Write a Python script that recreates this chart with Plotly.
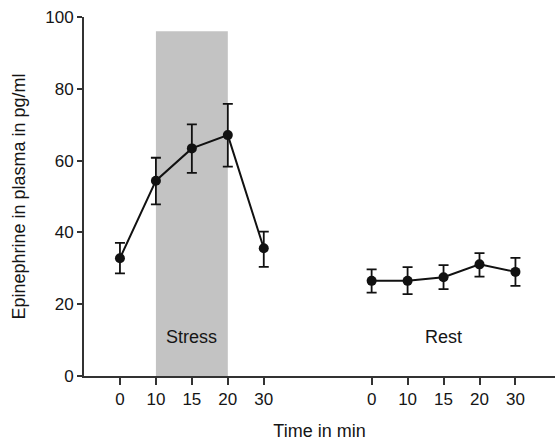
import plotly.graph_objects as go

time_labels = ["0", "10", "15", "20", "30"]
stress_mean = [32.8, 54.4, 63.4, 67.1, 35.6]
stress_upper = [37.1, 60.8, 70.1, 75.8, 40.2]
stress_lower = [28.6, 47.8, 56.6, 58.3, 30.4]
rest_mean = [26.5, 26.5, 27.5, 31.1, 29.0]
rest_upper = [29.7, 30.3, 30.9, 34.2, 32.9]
rest_lower = [23.2, 22.8, 24.2, 27.7, 25.1]
group_labels = ["Stress", "Rest"]
stress_band = [10, 20]
stress_band_top = 96

gap = 7
xs_stress = list(range(len(time_labels)))
xs_rest = [i + gap for i in xs_stress]

def errs(mean, up, lo):
    return dict(type="data", symmetric=False,
                array=[u - m for u, m in zip(up, mean)],
                arrayminus=[m - l for m, l in zip(mean, lo)],
                color="#111", thickness=1.8, width=5)

fig = go.Figure()
band_x = [time_labels.index(str(v)) for v in stress_band]
fig.add_shape(type="rect", x0=band_x[0], x1=band_x[1], y0=0, y1=stress_band_top,
              fillcolor="#c3c3c3", line=dict(width=0), layer="below")

for xs, m, u, l in [(xs_stress, stress_mean, stress_upper, stress_lower),
                    (xs_rest, rest_mean, rest_upper, rest_lower)]:
    fig.add_trace(go.Scatter(x=xs, y=m, mode="lines+markers",
                             line=dict(color="#111", width=2),
                             marker=dict(color="#111", size=10),
                             error_y=errs(m, u, l), showlegend=False))

fig.add_annotation(x=(band_x[0] + band_x[1]) / 2, y=10.8, text=group_labels[0], showarrow=False,
                   font=dict(size=18, color="#151515"))
fig.add_annotation(x=(xs_rest[0] + xs_rest[-1]) / 2, y=10.8, text=group_labels[1], showarrow=False,
                   font=dict(size=18, color="#151515"))

fig.update_layout(
    width=555, height=446,
    margin=dict(l=84, r=0, t=17, b=70),
    paper_bgcolor="white", plot_bgcolor="white",
    font=dict(family="Liberation Sans, Arial, sans-serif", size=17, color="#151515"),
    xaxis=dict(range=[-1, 12.1], tickvals=xs_stress + xs_rest, ticktext=time_labels + time_labels,
               automargin=False,
               showgrid=False, zeroline=False, showline=True, linecolor="#333", linewidth=2,
               ticks="outside", ticklen=7, tickwidth=2, tickcolor="#333",
               tickfont=dict(size=17),
               title=dict(text="Time in min", font=dict(size=18), standoff=16)),
    yaxis=dict(range=[0, 100], tickvals=[0, 20, 40, 60, 80, 100],
               automargin=False,
               showgrid=False, zeroline=False, showline=True, linecolor="#333", linewidth=2,
               ticks="outside", ticklen=5, tickwidth=2, tickcolor="#333",
               tickfont=dict(size=17),
               title=dict(text="Epinephrine in plasma in pg/ml", font=dict(size=18), standoff=15)),
)

fig.write_html("out.html", config={"displayModeBar": False},
               post_script="document.body.style.margin='0';document.body.style.overflow='hidden';")
